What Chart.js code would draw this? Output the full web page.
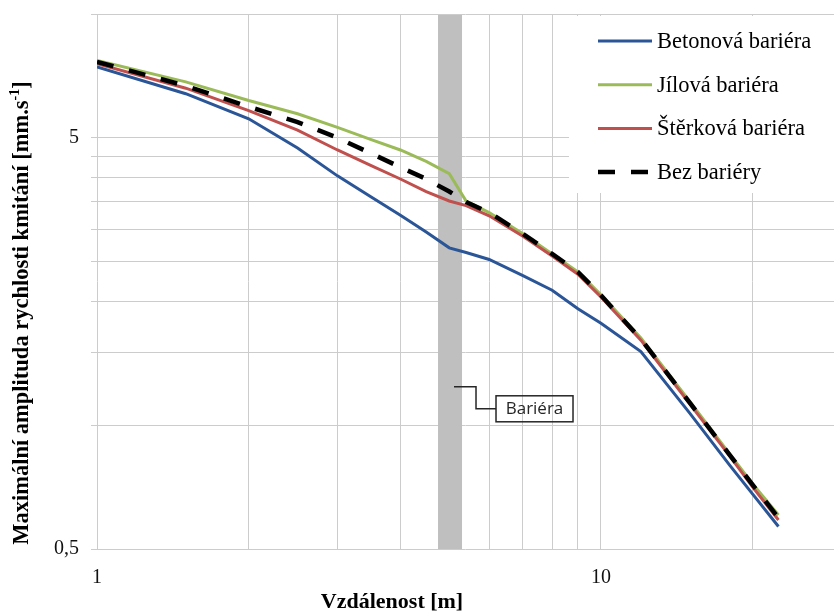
<!DOCTYPE html>
<html>
<head>
<meta charset="utf-8">
<script src="https://cdn.jsdelivr.net/npm/chart.js@4.4.1/dist/chart.umd.min.js"></script>
<style>
  html, body { margin: 0; padding: 0; background: #fff; }
  #wrap { width: 834px; height: 613px; }
</style>
</head>
<body>
<div id="wrap"><canvas id="vibChart" width="834" height="613"></canvas></div>
<script>
// Distances [m] and peak particle velocity [mm/s]
const distances = [1, 1.5, 2, 2.5, 3, 3.5, 4, 4.5, 5, 5.4, 6, 7, 8, 9, 10, 12, 15, 18, 20, 22.5];
const betonova  = [7.44, 6.40, 5.56, 4.72, 4.04, 3.59, 3.24, 2.95, 2.70, 2.63, 2.53, 2.31, 2.13, 1.92, 1.77, 1.51, 1.07, 0.80, 0.68, 0.567];
const jilova    = [7.71, 6.84, 6.16, 5.72, 5.30, 4.95, 4.67, 4.38, 4.09, 3.51, 3.29, 2.92, 2.61, 2.36, 2.075, 1.63, 1.143, 0.851, 0.72, 0.605];
const sterkova  = [7.57, 6.60, 5.82, 5.22, 4.67, 4.28, 3.97, 3.70, 3.51, 3.42, 3.23, 2.88, 2.58, 2.33, 2.05, 1.61, 1.127, 0.842, 0.707, 0.588];
const bezBariery = [7.65, 6.69, 5.95, 5.46, 5.00, 4.58, 4.24, 3.97, 3.70, 3.49, 3.29, 2.92, 2.61, 2.36, 2.07, 1.62, 1.135, 0.847, 0.716, 0.595];

const seriesLabels = ['Betonová bariéra', 'Jílová bariéra', 'Štěrková bariéra', 'Bez bariéry'];
const xTicks = [1, 2, 3, 4, 5, 6, 7, 8, 9, 10, 20];
const yTicks = [0.5, 1, 1.5, 2, 2.5, 3, 3.5, 4, 4.5, 5, 10];
const xLabelled = [1, 10];
const yLabelled = { 0.5: '0,5', 5: '5' };

// barrier position [m] and callout
const barrierFrom = 4.75, barrierTo = 5.3;
const barrierLabel = 'Bariéra', barrierLabelY = 1.24;

const serif = "'Liberation Serif', 'Times New Roman', serif";
const pts = arr => arr.map((v, i) => ({ x: distances[i], y: v }));

function line(label, data, color, extra) {
    return Object.assign({
        label, data: pts(data), borderColor: color, backgroundColor: color,
        borderWidth: 3, pointRadius: 0, tension: 0, fill: false
    }, extra || {});
}

const overlay = {
    id: 'overlay',
    beforeDatasetsDraw(chart) {
        const { ctx, chartArea: a, scales: { x } } = chart;
        const x0 = x.getPixelForValue(barrierFrom), x1 = x.getPixelForValue(barrierTo);
        ctx.save();
        ctx.fillStyle = '#bfbfbf';
        ctx.fillRect(x0, a.top + 1, x1 - x0, a.bottom - a.top - 1);
        ctx.restore();
    },
    afterDraw(chart) {
        const { ctx, chartArea: a, scales: { x, y } } = chart;
        ctx.save();

        // legend (covers the gridlines in the top right corner)
        const lx = a.right - 265;
        ctx.fillStyle = '#fff';
        ctx.fillRect(lx, a.top + 2, 265, 177);
        chart.data.datasets.forEach((ds, i) => {
            const ry = a.top + 27 + i * 43.7;
            ctx.beginPath();
            ctx.strokeStyle = ds.borderColor;
            ctx.lineWidth = ds.borderWidth;
            ctx.setLineDash(ds.borderDash || []);
            ctx.moveTo(lx + 29, ry); ctx.lineTo(lx + 83, ry);
            ctx.stroke();
            ctx.setLineDash([]);
            ctx.fillStyle = '#000';
            ctx.font = '22.5px ' + serif;
            ctx.textBaseline = 'middle';
            ctx.textAlign = 'left';
            ctx.fillText(ds.label, lx + 88, ry + 1);
        });

        // barrier callout
        const sx = x.getPixelForValue(barrierTo) - 8;
        const sy = y.getPixelForValue(barrierLabelY);
        ctx.strokeStyle = '#262626';
        ctx.lineWidth = 1.5;
        ctx.beginPath();
        ctx.moveTo(sx, sy); ctx.lineTo(sx + 22, sy); ctx.lineTo(sx + 22, sy + 22); ctx.lineTo(sx + 42, sy + 22);
        ctx.stroke();
        ctx.strokeRect(sx + 42, sy + 9, 77, 26);
        ctx.fillStyle = '#262626';
        ctx.font = "17px 'Open Sans', sans-serif";
        ctx.textAlign = 'center';
        ctx.textBaseline = 'middle';
        ctx.fillText(barrierLabel, sx + 42 + 38.5, sy + 22);

        // axis titles
        ctx.fillStyle = '#000';
        ctx.font = 'bold 22px ' + serif;
        ctx.textAlign = 'center';
        ctx.textBaseline = 'middle';
        ctx.fillText('Vzdálenost [m]', 392, 602);

        ctx.translate(22, 313);
        ctx.rotate(-Math.PI / 2);
        const main = 'Maximální amplituda rychlosti kmitání [mm.s', sup = '-1', end = ']';
        const big = 'bold 22.5px ' + serif, small = 'bold 14px ' + serif;
        ctx.font = big; const w1 = ctx.measureText(main).width, w3 = ctx.measureText(end).width;
        ctx.font = small; const w2 = ctx.measureText(sup).width;
        let px = -(w1 + w2 + w3) / 2;
        ctx.textAlign = 'left';
        ctx.font = big; ctx.fillText(main, px, 0); px += w1;
        ctx.font = small; ctx.fillText(sup, px, -7); px += w2;
        ctx.font = big; ctx.fillText(end, px, 0);
        ctx.restore();
    }
};

new Chart(document.getElementById('vibChart'), {
    type: 'line',
    data: {
        datasets: [
            line(seriesLabels[0], betonova, '#2a5597', { order: 3 }),
            line(seriesLabels[1], jilova, '#9bbb59', { order: 2 }),
            line(seriesLabels[2], sterkova, '#c0504d', { order: 1 }),
            line(seriesLabels[3], bezBariery, '#000000', { order: 0, borderWidth: 4.5, borderDash: [17, 16] })
        ]
    },
    options: {
        responsive: false,
        animation: false,
        devicePixelRatio: 1,
        layout: { padding: { top: 14, right: 0, left: 0, bottom: 0 } },
        plugins: { legend: { display: false }, tooltip: { enabled: false } },
        scales: {
            x: {
                type: 'logarithmic', min: 1, max: 29,
                afterBuildTicks: s => { s.ticks = xTicks.map(v => ({ value: v })); },
                afterFit: s => { s.height = 64; s.paddingLeft = 0; s.paddingRight = 0; },
                grid: { color: '#cccccc', lineWidth: 1, drawTicks: false },
                border: { display: false },
                ticks: {
                    autoSkip: false, maxRotation: 0, padding: 17, color: '#111',
                    font: { family: serif, size: 20 },
                    callback: v => xLabelled.includes(v) ? String(v) : ''
                }
            },
            y: {
                type: 'logarithmic', min: 0.5, max: 10,
                afterBuildTicks: s => { s.ticks = yTicks.map(v => ({ value: v })); },
                afterFit: s => { s.width = 97; s.paddingTop = 0; s.paddingBottom = 0; },
                grid: { color: '#cccccc', lineWidth: 1, tickLength: 6 },
                border: { display: false },
                ticks: {
                    autoSkip: false, padding: 12, color: '#111',
                    font: { family: serif, size: 20 },
                    callback: v => yLabelled[v] || ''
                }
            }
        }
    },
    plugins: [overlay]
});
</script>
</body>
</html>
